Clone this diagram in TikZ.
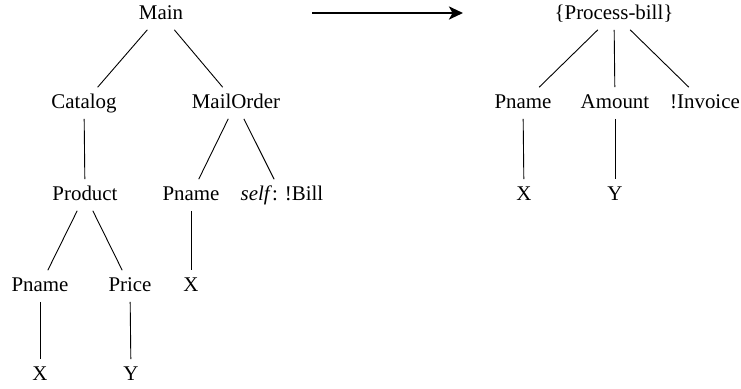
\documentclass[tikz,border=0pt]{standalone}
\usepackage{fontspec}
\setmainfont{Liberation Serif}
\usetikzlibrary{arrows.meta}

\begin{document}
\begin{tikzpicture} [
    x=0.5pt, y=-0.5pt,
    block/.style    = { rectangle, draw=none, text centered, inner sep=3pt,
                        text height=7.2pt, text depth=2.2pt,
                        font=\fontsize{10.45pt}{12pt}\selectfont },
    line/.style     = { draw, line width=0.45pt },
    arrow/.style    = { draw, line width=1.3pt,
                        -{Stealth[length=7pt, width=6.5pt, inset=1.8pt]} },
  ]
  \useasboundingbox (0,0) rectangle (741,388);

  % Define nodes: left tree
  \node[block] (main)      at (161,14)  {Main};
  \node[block] (catalog)   at (84,103)  {Catalog};
  \node[block] (mailorder) at (236,103) {MailOrder};
  \node[block] (product)   at (85,195)  {Product};
  \node[block] (pnameM)    at (191,195) {Pname};
  \node[block] (bill)      at (282,195) {\textit{self}: !Bill};
  \node[block] (pnameP)    at (40,286)  {Pname};
  \node[block] (price)     at (130,286) {Price};
  \node[block] (xM)        at (191,286) {X};
  \node[block] (xP)        at (40,375)  {X};
  \node[block] (yP)        at (131,375) {Y};

  % Define nodes: right tree
  \node[block] (process)   at (614,14)  {\{Process-bill\}};
  \node[block] (pnameR)    at (523,103) {Pname};
  \node[block] (amount)    at (615,103) {Amount};
  \node[block] (invoice)   at (705,103) {!Invoice};
  \node[block] (xR)        at (524,195) {X};
  \node[block] (yR)        at (615,195) {Y};

  \coordinate (from) at (312,13);
  \coordinate (to)   at (463,13);

  % connect the nodes
		\path [line] (main) -- (catalog);
		\path [line] (main) -- (mailorder);
		\path [line] (catalog) -- (product);
		\path [line] (mailorder) -- (pnameM);
		\path [line] (mailorder) -- (bill);
		\path [line] (product) -- (pnameP);
		\path [line] (product) -- (price);
		\path [line] (pnameM) -- (xM);
		\path [line] (pnameP) -- (xP);
		\path [line] (price) -- (yP);
		\path [line] (process) -- (pnameR);
		\path [line] (process) -- (amount);
		\path [line] (process) -- (invoice);
		\path [line] (pnameR) -- (xR);
		\path [line] (amount) -- (yR);
		\path [arrow] (from) -- (to);
\end{tikzpicture}
\end{document}
